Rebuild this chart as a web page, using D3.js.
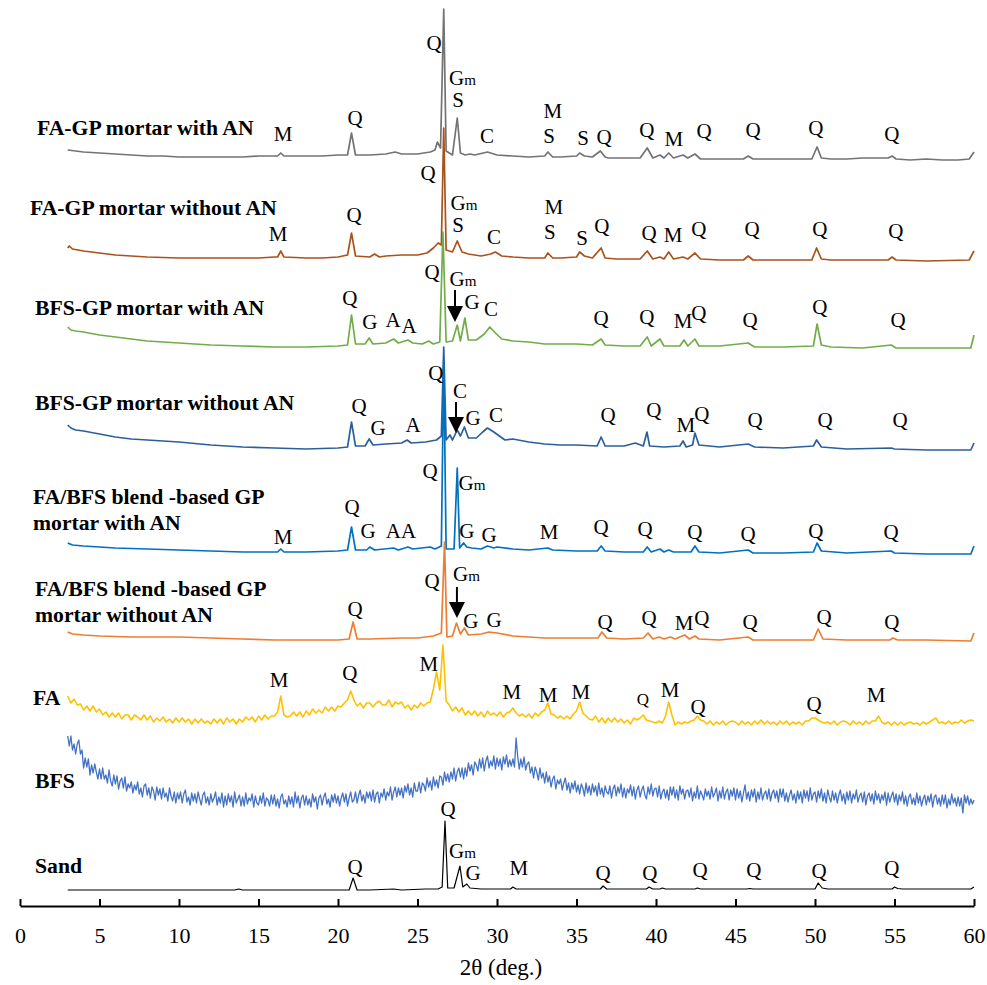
<!DOCTYPE html>
<html><head><meta charset="utf-8">
<script src="https://cdn.jsdelivr.net/npm/d3@7"></script>
<style>
body{margin:0;background:#fff}
svg{display:block}
text{font-family:"Liberation Serif","Times New Roman",serif;fill:#000}
</style>
</head><body>
<svg id="chart" width="987" height="985"></svg>
<script>
// ---------------- DATA ----------------
const xTicks = [0,5,10,15,20,25,30,35,40,45,50,55,60];
const seriesNames = [
  ["FA-GP mortar with AN"],
  ["FA-GP mortar without AN"],
  ["BFS-GP mortar with AN"],
  ["BFS-GP mortar without AN"],
  ["FA/BFS blend -based GP","mortar with AN"],
  ["FA/BFS blend -based GP","mortar without AN"],
  ["FA"],
  ["BFS"],
  ["Sand"]
];
// vertical stacking offsets (a.u.)
const seriesOffsets = [746, 644, 556, 454, 350, 264, 181, 101, 14];

// [2theta, intensity a.u.]
const faGpWithAN = [[3,10],[3.5,9],[4,8],[5,7],[6,6],[7,5],[8,4],[9,4],[10,3],[12,3],[14,3],[15,4],[16,4],[16.2,4],[16.4,7],[16.6,4],[17,4],[18,4],[19,4],[20,5],[20.6,5],[20.85,27],[21.1,5],[22,5],[23,6],[23.6,8],[24,6],[25,6],[25.8,8],[26.1,10],[26.25,18],[26.45,12],[26.65,151],[26.8,9],[27.2,5],[27.5,42],[27.7,7],[28,5],[28.3,6],[28.6,5],[29.4,8],[30,5],[31,4],[32,3],[33,4],[33.2,8],[33.5,3],[34,3],[35,4],[35.2,7],[35.5,4],[36,3],[36.5,9],[36.8,3],[37,2],[38,2],[39,2],[39.45,12],[39.8,2],[40.25,5],[40.5,2],[40.8,7],[41.1,2],[41.7,5],[42,2],[42.45,6],[42.8,1],[44,1],[45.5,1],[45.8,4],[46.1,1],[48,1],[49.8,1],[50.13,13],[50.4,2],[51,1],[52,1],[53,2],[54.6,2],[54.85,4],[55.1,1],[56,0],[57,1],[58,0],[59,0],[59.7,1],[60,8]];
const faGpWithoutAN = [[3,14],[3.1,16],[3.3,13],[4,11],[5,9],[6,7],[7,6],[8,5],[10,4],[12,4],[14,4],[15,4],[16,5],[16.2,5],[16.4,11],[16.6,5],[18,4],[19,4],[20,5],[20.6,7],[20.85,29],[21.1,6],[22,5],[22.3,8],[22.6,5],[23,6],[24,7],[25,7],[25.6,9],[26.0,14],[26.3,19],[26.5,17],[26.65,134],[26.8,12],[27.2,10],[27.5,21],[27.8,10],[28.2,8],[29,6],[29.6,8],[29.9,10],[30.3,6],[31,5],[32,4],[33,4],[33.2,9],[33.5,4],[34,4],[35,5],[35.2,10],[35.5,6],[36,4],[36.55,14],[36.8,4],[37.5,3],[39,3],[39.45,11],[39.8,3],[40.25,5],[40.5,3],[40.8,10],[41.1,3],[41.7,5],[42,3],[42.45,9],[42.8,3],[44,2],[45.5,2],[45.8,6],[46.1,2],[48,2],[49.8,2],[50.1,14],[50.4,3],[51,2],[53,2],[54.6,2],[54.85,5],[55.1,2],[57,1],[59.7,2],[60,11]];
const bfsGpWithAN = [[3,23],[3.2,20],[3.5,19],[4,18],[5,15],[6,13],[7,11],[8,9],[9,8],[10,7],[12,5],[14,4],[16,3],[18,3],[20,4],[20.6,5],[20.85,35],[21.1,6],[21.7,6],[21.96,12],[22.2,6],[23,7],[23.5,11],[23.8,7],[24.4,10],[24.7,7],[25.3,6],[25.7,9],[26.0,6],[26.4,8],[26.6,118],[26.8,8],[27.2,9],[27.5,25],[27.7,9],[27.98,32],[28.2,10],[28.7,10],[29.2,16],[29.55,23],[29.9,17],[30.3,11],[31,9],[32,8],[33,6],[34,6],[35,6],[36,5],[36.55,11],[36.8,5],[38,4],[39,4],[39.45,13],[39.7,4],[40.25,11],[40.5,4],[41.5,4],[41.76,10],[42,4],[42.45,11],[42.7,4],[44,4],[45.8,7],[46.2,3],[48,3],[49.9,4],[50.13,26],[50.4,5],[51,3],[53,2],[54.8,5],[55.1,2],[57,2],[59.8,2],[60,15]];
const bfsGpWithoutAN = [[3,27],[3.2,24],[3.5,22],[4,21],[5,18],[6,15],[7,13],[8,12],[10,10],[12,7],[14,5],[16,4],[18,3],[20,4],[20.6,5],[20.85,30],[21.1,6],[21.7,6],[21.96,13],[22.2,7],[23,8],[24,9],[24.35,12],[24.6,9],[25.5,10],[26.2,12],[26.5,16],[26.65,105],[26.8,12],[27.04,17],[27.2,12],[27.5,22],[27.7,16],[27.95,25],[28.2,14],[28.7,14],[29.1,20],[29.4,24],[29.8,20],[30.5,12],[31,13],[32,10],[33,8],[34,7],[35,7],[36.3,6],[36.55,15],[36.8,6],[38,6],[38.7,9],[39.2,6],[39.43,20],[39.6,6],[40.5,5],[41.5,6],[41.7,11],[41.9,5],[42.3,7],[42.45,19],[42.7,7],[44,5],[45.8,8],[46.2,5],[48,4],[49.9,6],[50.1,12],[50.4,5],[52,3],[54.8,4],[55,3],[57,2],[59.8,2],[60,9]];
const blendWithAN = [[3,13],[3.3,11],[4,10],[5,9],[6,8],[8,7],[10,6],[12,5],[14,4],[16.2,4],[16.4,7],[16.6,4],[18,4],[20,5],[20.6,6],[20.85,29],[21.1,6],[21.8,6],[22.0,9],[22.3,6],[23.5,8],[23.8,6],[24.4,9],[24.7,7],[25.8,9],[26.1,7],[26.5,10],[26.65,196],[26.8,7],[27.3,7],[27.5,88],[27.65,8],[27.9,13],[28.1,9],[28.4,8],[29,7],[29.4,10],[29.8,8],[30,9],[31,7],[32,6],[33.2,8],[33.5,6],[35,5],[36.3,5],[36.55,10],[36.8,5],[38,4],[39.2,4],[39.45,9],[39.7,4],[40.25,7],[40.5,4],[40.8,6],[41.1,4],[42.2,4],[42.45,10],[42.7,4],[44,3],[45.8,6],[46.1,3],[48,3],[49.9,4],[50.13,13],[50.4,5],[52,3],[54.8,5],[55,3],[57,2],[59.8,2],[60,10]];
const blendWithoutAN = [[3,10],[3.3,8],[4,7],[5,6],[7,5],[10,5],[12,4],[14,3],[16,2],[18,2],[20,2],[20.7,3],[20.95,20],[21.2,3],[22,3],[24,4],[25,4],[26.0,6],[26.5,9],[26.7,100],[26.85,5],[27.2,6],[27.45,19],[27.7,8],[27.95,14],[28.2,7],[29,8],[29.5,10],[30,9],[31,6],[32,5],[33,4],[34,4],[35.5,4],[36.35,4],[36.6,10],[36.9,4],[38,3],[39.2,4],[39.5,9],[39.8,3],[40.2,5],[40.5,3],[40.9,5],[41.2,3],[41.8,7],[42.1,3],[42.45,6],[42.7,3],[44,2],[45.8,5],[46.1,2],[48,2],[49.9,2],[50.2,13],[50.5,3],[52,2],[54.7,2],[54.9,4],[55.2,2],[57,2],[59.8,1],[60,9]];
// FA: intensities on a 0.2 deg grid starting at 3.0
const faStart = 3, faStep = 0.2;
const faCounts = [29,22,26,20,21, 15,19,14,19,13, 16,10,13,8,12, 8,12,6,10,10, 5,10,8,5,10, 5,9,3,7,4, 8,3,6,2,7, 3,7,3,6,1, 6,2,6,2,4, 1,6,2,6,1, 7,3,6,1,6, 3,8,5,8,3, 9,5,10,6,9, 9,13,29,10,8, 9,13,9,13,8, 14,10,16,12,15, 12,18,14,18,14, 19,18,22,25,34, 25,19,22,17,22, 22,18,22,24,20, 20,25,18,23,21, 23,17,20,15,20, 17,22,19,22,23, 36,53,35,80,24, 20,14,18,13,17, 10,14,10,14,9, 13,8,14,10,12, 9,13,8,12,13, 17,12,9,11,8, 11,7,12,9,13, 15,22,11,10,7, 9,6,9,6,11, 14,23,12,9,6, 5,9,3,7,2, 7,3,7,3,6, 2,5,1,7,5, 7,10,5,4,3, 2,4,2,9,23, 10,0,3,1,3, 2,4,5,9,5, 4,1,4,0,3, 1,4,0,3,4, 3,0,4,1,3, 0,4,1,5,1, 4,1,3,0,4, 1,4,0,3,1, 3,0,4,4,7, 7,5,3,2,3, 1,4,0,3,4, 3,0,4,1,3, 0,4,1,4,4, 9,3,1,3,0, 3,0,3,0,2, 3,1,2,0,3, 1,3,5,7,2, 3,1,4,1,3, 2,5,2,4,5, 4];
// BFS: intensities on a 0.1 deg grid starting at 3.0
const bfsStart = 3, bfsStep = 0.1;
const bfsCounts = [69,59,69,55,61,51,61,65,51,55, 37,47,38,46,30,40,32,41,33,26, 36,26,37,26,30,22,35,24,19,30, 21,29,16,24,27,17,28,14,21,17, 23,12,20,15,23,11,17,8,19,21, 10,17,7,18,14,5,18,10,16,6, 17,8,12,4,17,9,4,13,2,12, 6,13,2,11,15,3,8,0,12,4, 11,2,13,6,0,10,13,2,8,0, 11,3,7,13,0,8,2,12,-2,9, 0,11,3,9,-2,13,2,6,10,-1, 8,-1,12,1,7,4,11,-2,9,2, 0,9,2,12,-1,7,5,-1,10,1, 10,-1,6,-3,8,11,1,5,-2,9, 1,8,-2,13,2,9,-3,7,10,0, 9,0,6,-2,11,3,8,-4,7,10, 0,8,12,1,6,-2,10,3,11,2, 9,-1,7,12,3,11,-1,7,13,3, 5,13,2,10,15,4,10,2,13,7, 13,4,15,3,11,13,2,12,8,16, 5,13,9,18,5,13,18,8,17,10, 17,7,19,13,21,10,17,8,22,14, 14,23,12,22,20,14,27,18,24,15, 28,19,25,17,29,28,20,33,24,31, 23,33,26,37,24,33,37,28,37,26, 37,29,42,34,40,30,43,40,34,46, 37,47,34,44,49,37,44,39,49,36, 47,39,46,35,48,41,50,38,45,39, 46,38,67,49,36,46,38,48,35,41, 43,32,38,27,38,33,25,37,27,32, 22,33,23,29,18,26,29,16,25,21, 26,15,22,27,15,22,12,22,16,24, 13,20,11,21,17,9,22,12,19,10, 21,13,19,9,22,11,17,8,19,13, 11,19,7,16,20,9,18,12,21,8, 17,7,16,12,20,9,18,6,15,19, 8,15,19,10,6,18,11,21,9,16, 17,8,19,6,13,16,7,15,5,18, 10,18,7,15,5,19,11,16,6,14, 15,8,17,4,13,7,19,6,14,10, 5,16,9,14,6,18,8,12,17,4, 14,7,18,6,13,16,5,15,9,17, 5,16,7,14,3,12,20,6,13,4, 15,8,16,3,13,6,17,5,11,14, 6,16,4,12,15,7,14,3,16,8, 16,4,12,3,10,15,5,11,2,14, 6,13,2,15,7,14,4,17,5,11, 13,3,14,7,16,4,12,2,15,8, 3,14,5,12,2,10,15,4,11,1, 13,5,14,2,11,6,15,3,9,12, 3,13,0,9,12,4,11,1,14,5, 11,2,10,5,13,0,12,3,9,13, 3,11,0,10,4,13,1,9,-1,8, 11,1,7,0,12,2,9,-1,6,10, 0,9,3,11,-2,8,10,1,7,-1, 10,1,10,-3,6,0,11,2,7,-1, 8,-1,7,-8,10,2,9,0,6,1, 5];
const sand = [[3,2],[5,2],[10,2],[13.5,2],[13.75,3],[14,2],[18,2],[20.7,2],[20.95,14],[21.2,2],[22,2],[23.5,3],[24,2],[25.5,3],[26.3,3],[26.55,5],[26.73,71],[26.9,4],[27.3,4],[27.67,26],[27.85,5],[28.1,8],[28.3,4],[29,3],[30,3],[30.85,3],[31.0,5],[31.2,3],[33,3],[36.5,3],[36.67,6],[36.9,3],[39.4,3],[39.56,5],[39.8,3],[40.25,3],[40.4,4],[40.6,3],[42.45,3],[42.6,4],[42.8,3],[45.7,3],[45.9,3.5],[46.1,3],[50,3],[50.2,9],[50.45,4],[50.8,3],[54.85,3],[55.0,5],[55.2,3.5],[55.5,3],[59.8,3],[60,5]];

// peak labels: [phase, 2theta, intensity a.u. above series offset]
const notesFaGpWithAN = [["Q",26.04,117],["Gm",27.83,82],["S",27.55,60],["M",16.54,26],["Q",21.07,42],["C",29.37,24],["M",33.52,49],["S",33.27,24],["S",35.41,22],["Q",36.73,23],["Q",39.43,30],["M",41.13,21],["Q",43.02,29],["Q",46.10,30],["Q",50.06,32],["Q",54.84,26]];
const notesFaGpWithoutAN = [["Q",25.66,89],["Gm",27.92,59],["S",27.55,37],["Q",21.01,47],["M",16.23,28],["C",29.81,25],["M",33.58,55],["S",33.33,30],["S",35.35,24],["Q",36.60,36],["Q",39.56,29],["M",41.07,27],["Q",42.70,33],["Q",46.04,33],["Q",50.31,33],["Q",55.09,31]];
const notesBfsGpWithAN = [["Q",25.91,78],["Gm",27.86,71],["G",28.43,48],["C",29.62,41],["Q",20.75,52],["G",22.01,28],["A",23.46,30],["A",24.47,24],["Q",36.54,32],["Q",39.43,33],["M",41.70,29],["Q",42.70,37],["Q",45.91,30],["Q",50.31,43],["Q",55.22,30]];
const notesBfsGpWithoutAN = [["Q",26.16,79],["C",27.67,61],["G",28.49,34],["C",29.94,37],["Q",21.32,46],["G",22.52,24],["A",24.72,27],["Q",36.98,37],["Q",39.87,42],["M",41.88,27],["Q",42.88,38],["Q",46.23,32],["Q",50.63,32],["Q",55.35,32]];
const notesBlendWithAN = [["Q",25.79,85],["Gm",28.43,73],["Q",20.88,49],["G",21.89,25],["AA",23.96,25],["M",16.54,19],["G",28.11,25],["G",29.50,21],["M",33.27,24],["Q",36.54,29],["Q",39.31,27],["Q",42.45,24],["Q",45.79,22],["Q",50.06,25],["Q",54.78,24]];
const notesBlendWithoutAN = [["Q",25.91,61],["Gm",28.08,68],["G",28.36,21],["G",29.81,22],["Q",21.07,33],["Q",36.79,20],["Q",39.56,24],["M",41.76,19],["Q",42.89,24],["Q",45.91,20],["Q",50.57,25],["Q",54.84,20]];
const notesFa = [["M",16.29,45],["Q",20.75,52],["M",25.72,61],["M",30.94,33],["M",33.21,30],["M",35.28,33],["M",40.88,35],["Q",42.64,18],["Q",49.94,21],["M",53.84,30]];
const notesFaMinor = [["Q",39.18,26]];
const notesSand = [["Q",26.92,83],["Gm",27.83,41],["G",28.49,19],["Q",21.07,25],["M",31.38,24],["Q",36.67,19],["Q",39.62,19],["Q",42.77,22],["Q",46.16,22],["Q",50.25,21],["Q",54.84,24]];
// arrows: [series index, 2theta, top a.u., tip a.u.]
const arrowMarks = [[2,27.36,60,28],[3,27.42,50,19],[5,27.48,55,24]];

// ---------------- LAYOUT / STYLE ----------------
const seriesColors = ["#737373","#a9521b","#70ad47","#2c5f9a","#0070c0","#ed7d31","#ffc000","#4472c4","#000000"];
const seriesWidths = [1.7,1.7,1.7,1.7,1.7,1.7,1.6,1.3,1.2];
const labelX = [37,30,35,35,33,35,33,35,35];
const labelBaseY = [[135],[215],[315],[410],[504,530],[596,622],[705],[788],[873]];

const svg = d3.select("#chart");
const x = d3.scaleLinear().domain([0,60]).range([20,974]);
const y = d3.scaleLinear().domain([0,900]).range([906,6]);

const gridSeries = (start, step, vals) => vals.map((v,i) => [+(start + i*step).toFixed(2), v]);
const allData = [faGpWithAN, faGpWithoutAN, bfsGpWithAN, bfsGpWithoutAN, blendWithAN, blendWithoutAN,
  gridSeries(faStart, faStep, faCounts), gridSeries(bfsStart, bfsStep, bfsCounts), sand];
const allNotes = [notesFaGpWithAN, notesFaGpWithoutAN, notesBfsGpWithAN, notesBfsGpWithoutAN,
  notesBlendWithAN, notesBlendWithoutAN, notesFa, [], notesSand];

allData.forEach((data, i) => {
  const off = seriesOffsets[i];
  const line = d3.line().x(d => x(d[0])).y(d => y(off + d[1]));
  svg.append("path").datum(data)
    .attr("fill","none").attr("stroke",seriesColors[i])
    .attr("stroke-width",seriesWidths[i]).attr("stroke-linejoin","round")
    .attr("d",line);
});

function addNote(g, n, off, size) {
  const t = g.append("text")
    .attr("x", x(n[1])).attr("y", y(off + n[2]))
    .attr("dy","0.35em").attr("text-anchor","middle")
    .style("font-size", size + "px");
  if (n[0] === "Gm") {
    t.append("tspan").text("G");
    t.append("tspan").text("m").style("font-size", (size*0.72) + "px");
  } else {
    t.text(n[0]);
  }
}
const notesG = svg.append("g");
allNotes.forEach((notes, i) => notes.forEach(n => addNote(notesG, n, seriesOffsets[i], 21)));
notesFaMinor.forEach(n => addNote(notesG, n, seriesOffsets[6], 17));

arrowMarks.forEach(a => {
  const off = seriesOffsets[a[0]];
  const xp = x(a[1]), yTop = y(off + a[2]), yTip = y(off + a[3]);
  svg.append("line").attr("x1",xp).attr("x2",xp).attr("y1",yTop).attr("y2",yTip-8)
    .attr("stroke","#000").attr("stroke-width",2);
  svg.append("path").attr("d",`M${xp-8},${yTip-16}L${xp+8},${yTip-16}L${xp},${yTip}Z`).attr("fill","#000");
});

seriesNames.forEach((lines, i) => {
  lines.forEach((s, k) => {
    svg.append("text").attr("x",labelX[i]).attr("y",labelBaseY[i][k])
      .style("font-size","21.7px").style("font-weight","bold").text(s);
  });
});

const axis = d3.axisBottom(x).tickValues(xTicks).tickSizeInner(-7).tickSizeOuter(0).tickPadding(21);
const ag = svg.append("g").attr("transform","translate(0,906)").call(axis);
ag.select(".domain").attr("stroke","#000").attr("stroke-width",2);
ag.selectAll(".tick line").attr("stroke","#000").attr("stroke-width",2);
ag.selectAll(".tick text").style("font-size","22px").style("font-family","'Liberation Serif','Times New Roman',serif").attr("fill","#000");

svg.append("text").attr("x",501).attr("y",975).attr("text-anchor","middle")
  .style("font-size","23px").text("2θ (deg.)");
</script>
</body></html>
